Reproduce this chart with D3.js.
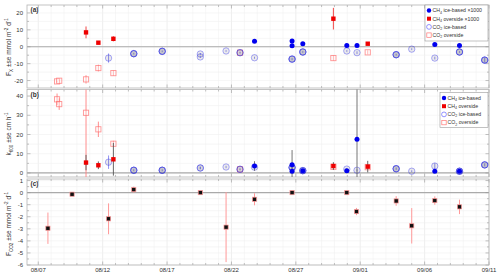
<!DOCTYPE html>
<html>
<head>
<meta charset="utf-8">
<script src="https://cdn.jsdelivr.net/npm/d3@7"></script>
<style>
body{margin:0;background:#fff}
text{font-family:"Liberation Sans",Arial,sans-serif;fill:#333}
</style>
</head>
<body>
<svg id="chart" width="500" height="277"></svg>
<script>
// sample times (2019)
const ch4IceT = ["08-23 19:00","08-26 17:00","08-26 17:00","08-27 13:00","08-30 23:00","08-31 18:00","09-06 19:00","09-08 17:00"];
const ch4IceFx = [3.2, 3.4, 0.6, 1.8, 0.8, 0.8, 1.4, 0.8];
const ch4IceFxSe = [0.3, 0.3, 0.3, 0.4, 0.3, 0.3, 0.3, 0.3];
const ch4IceK = [3.6, 4.3, 0.9, 1.2, 1.2, 17.5, 0.9, 0.9];
const ch4IceKSe = [2.5, 7.6, 0.8, 0.8, 0.8, 42, 0.6, 0.6];

const ch4OverT = ["08-10 17:00","08-11 16:00","08-12 20:00","08-29 22:00","09-01 14:00"];
const ch4OverFx = [8.5, 2.4, 4.7, 16.6, 1.8];
const ch4OverFxSe = [3.5, 0.5, 1.5, 6.4, 0.4];
const ch4OverK = [5.4, 4.0, 7.1, 3.6, 3.3];
const ch4OverKSe = [4, 2, 8.5, 2, 3];

// co2IceN: number of overlapping casts at that time
const co2IceT = ["08-12 11:00","08-14 10:00","08-16 15:00","08-19 14:00","08-19 14:00","08-21 14:00","08-22 16:00","08-23 19:00",
                 "08-26 17:00","08-27 13:00","08-30 23:00","08-31 18:00","09-03 19:00","09-05 00:00","09-06 19:00","09-08 17:00","09-10 16:00"];
const co2IceFx = [-6.7, -4.1, -2.7, -4.3, -6.0, -2.5, -3.5, -6.5, -7.3, -3.1, -2.5, -3.5, -4.7, -1.4, -6.7, -3.1, -7.9];
const co2IceFxSe = [2.7, 0.5, 0.5, 0.6, 0.6, 0.5, 0.5, 0.6, 0.6, 0.5, 0.5, 0.8, 0.5, 0.5, 0.8, 0.5, 1.5];
const co2IceK = [5.6, 1.4, 1.4, 2.6, 2.6, 3.1, 1.9, 3.0, 2.8, 1.2, 2.0, 1.4, 2.2, 0.9, 3.6, 0.9, 4.2];
const co2IceKSe = [3.5, 0.5, 0.5, 0.6, 0.6, 0.6, 0.5, 0.6, 0.6, 0.5, 0.5, 0.5, 0.6, 0.5, 1.5, 0.5, 0.8];
const co2IceN = [1, 3, 3, 1, 1, 1, 2, 1, 3, 3, 1, 1, 3, 1, 1, 3, 3];

const co2OverT = ["08-08 11:00","08-08 15:00","08-10 17:00","08-11 16:00","08-12 20:00","08-22 16:00","08-29 22:00","09-01 14:00"];
const co2OverFx = [-20.5, -20.1, -19.3, -12.6, -15.6, -3.5, -6.7, -3.3];
const co2OverFxSe = [0.5, 0.5, 2.5, 2, 1.5, 0.5, 1.5, 1.2];
const co2OverK = [38.3, 35.8, 31.3, 22.7, 15.2, 1.9, 3.2, 3.0];
const co2OverKSe = [3, 3, 45, 4, 1.5, 0.5, 1, 1];

const fco2T = ["08-07 18:00","08-09 15:00","08-12 11:00","08-14 10:00","08-19 14:00","08-21 14:00","08-23 19:00",
               "08-26 17:00","08-30 23:00","08-31 17:00","09-03 19:00","09-05 00:00","09-06 19:00","09-08 17:00"];
const fco2 = [-2.95, -0.13, -2.17, 0.25, 0, -2.86, -0.55, 0, 0, -1.57, -0.69, -2.75, -0.66, -1.18];
const fco2Se = [1.3, 0.05, 1.28, 0.25, 0.05, 2.9, 0.5, 0.05, 0.05, 0.3, 0.4, 1.47, 0.35, 0.6];

const yTicksA = [-20, -10, 0, 10, 20];
const yTicksB = [0, 10, 20, 30, 40];
const yTicksC = [1, 0, -1, -2, -3, -4, -5, -6];

const parse = d3.timeParse("%Y-%m-%d %H:%M");
const T = s => parse("2019-" + s);
const svg = d3.select("#chart");

const x = d3.scaleTime().domain([T("08-06 03:00"), T("09-11 00:00")]).range([27, 489]);
const days = d3.timeDay.range(T("08-07 00:00"), T("09-11 01:00"));

const panels = [
  {key: "a", top: 5, bottom: 88, domain: [-24.4, 24.7], ticks: yTicksA, minor: d3.range(-20, 21, 5)},
  {key: "b", top: 89.5, bottom: 177, domain: [-2.1, 43.4], ticks: yTicksB, minor: d3.range(0, 41, 5)},
  {key: "c", top: 179, bottom: 265, domain: [-6, 1.13], ticks: yTicksC, minor: d3.range(-6, 1.01, 0.5)}
];
panels.forEach(p => p.y = d3.scaleLinear().domain(p.domain).range([p.bottom, p.top]));

const x0 = x.range()[0], x1 = x.range()[1];

panels.forEach(p => {
  const g = svg.append("g");
  // grid
  g.selectAll(".vg").data(days).join("line")
    .attr("x1", d => x(d)).attr("x2", d => x(d)).attr("y1", p.top).attr("y2", p.bottom)
    .attr("stroke", (d, i) => i % 5 === 0 ? "#e2e2e2" : "#f1f1f1").attr("stroke-width", 0.6);
  g.selectAll(".hg").data(p.minor).join("line")
    .attr("x1", x0).attr("x2", x1).attr("y1", d => p.y(d)).attr("y2", d => p.y(d))
    .attr("stroke", "#f0f0f0").attr("stroke-width", 0.6);
  // zero line
  g.append("line").attr("x1", x0).attr("x2", x1).attr("y1", p.y(0)).attr("y2", p.y(0))
    .attr("stroke", "#aaa").attr("stroke-width", 1.2);
  // x ticks top and bottom
  [[p.top, 1], [p.bottom, -1]].forEach(([yy, s]) => {
    g.selectAll(null).data(days).join("line")
      .attr("x1", d => x(d)).attr("x2", d => x(d)).attr("y1", yy)
      .attr("y2", (d, i) => yy + s * (i % 5 === 0 ? 3.5 : 2))
      .attr("stroke", "#999").attr("stroke-width", 0.6);
  });
  // y ticks left/right
  [[x0, 1], [x1, -1]].forEach(([xx, s]) => {
    g.selectAll(null).data(p.minor).join("line")
      .attr("y1", d => p.y(d)).attr("y2", d => p.y(d)).attr("x1", xx)
      .attr("x2", d => xx + s * (p.ticks.includes(d) ? 3.5 : 2))
      .attr("stroke", "#999").attr("stroke-width", 0.6);
  });
  g.selectAll(".yl").data(p.ticks).join("text")
    .attr("x", 23).attr("y", d => p.y(d)).attr("dy", "0.35em")
    .attr("text-anchor", "end").attr("font-size", 6).text(d => d);
  g.append("rect").attr("x", x0).attr("y", p.top).attr("width", x1 - x0).attr("height", p.bottom - p.top)
    .attr("fill", "none").attr("stroke", "#b5b5b5").attr("stroke-width", 0.8);
  g.append("text").attr("x", 30.5).attr("y", p.top + 7).attr("font-size", 6.5)
    .attr("font-weight", "bold").attr("fill", "#222").text("(" + p.key + ")");
  svg.append("clipPath").attr("id", "clip" + p.key).append("rect")
    .attr("x", x0).attr("y", p.top).attr("width", x1 - x0).attr("height", p.bottom - p.top);
  p.g = svg.append("g").attr("clip-path", "url(#clip" + p.key + ")");
});

// x tick labels
svg.selectAll(".xl").data(days.filter((d, i) => i % 5 === 0)).join("text")
  .attr("x", d => x(d)).attr("y", 272).attr("text-anchor", "middle").attr("font-size", 6)
  .text(d3.timeFormat("%m/%d"));

function errBars(g, y, t, v, se, color, width) {
  g.append("g").selectAll("line").data(t).join("line")
    .attr("x1", (d, i) => x(T(d))).attr("x2", (d, i) => x(T(d)))
    .attr("y1", (d, i) => y(v[i] - se[i])).attr("y2", (d, i) => y(v[i] + se[i]))
    .attr("stroke", color).attr("stroke-width", width || 0.9);
}
function squares(g, y, t, v, size, attrs) {
  const s = g.append("g").selectAll("rect").data(t).join("rect")
    .attr("x", (d, i) => x(T(d)) - size / 2).attr("y", (d, i) => y(v[i]) - size / 2)
    .attr("width", size).attr("height", size);
  Object.entries(attrs).forEach(([k, val]) => s.attr(k, val));
}
function circles(g, y, t, v, r, attrs) {
  const s = g.append("g").selectAll("circle").data(t).join("circle")
    .attr("cx", (d, i) => x(T(d))).attr("cy", (d, i) => y(v[i])).attr("r", r);
  Object.entries(attrs).forEach(([k, val]) => s.attr(k, val));
}
function co2IceMarks(g, y, v, se) {
  errBars(g, y, co2IceT, v, se, "#7777ee", 0.8);
  co2IceT.forEach((d, i) => {
    d3.range(co2IceN[i]).forEach(() => {
      g.append("circle").attr("cx", x(T(d))).attr("cy", y(v[i])).attr("r", 3.2)
        .attr("fill", "#556").attr("fill-opacity", 0.12)
        .attr("stroke", "#3333ee").attr("stroke-opacity", 0.45).attr("stroke-width", 0.9);
    });
  });
}

// panel a
{
  const p = panels[0], g = p.g, y = p.y;
  errBars(g, y, co2OverT, co2OverFx, co2OverFxSe, "#ff9090");
  squares(g, y, co2OverT, co2OverFx, 5.2, {fill: "#fff", "fill-opacity": 0.3, stroke: "#ff6666", "stroke-opacity": 0.7, "stroke-width": 0.9});
  co2IceMarks(g, y, co2IceFx, co2IceFxSe);
  errBars(g, y, ch4OverT, ch4OverFx, ch4OverFxSe, "#ee3333");
  squares(g, y, ch4OverT, ch4OverFx, 4.4, {fill: "#ee0000"});
  errBars(g, y, ch4IceT, ch4IceFx, ch4IceFxSe, "#666");
  circles(g, y, ch4IceT, ch4IceFx, 2.5, {fill: "#0000ee"});
}
// panel b
{
  const p = panels[1], g = p.g, y = p.y;
  errBars(g, y, co2OverT, co2OverK, co2OverKSe, "#ff8080");
  squares(g, y, co2OverT, co2OverK, 5.2, {fill: "#fff", "fill-opacity": 0.3, stroke: "#ff6666", "stroke-opacity": 0.7, "stroke-width": 0.9});
  co2IceMarks(g, y, co2IceK, co2IceKSe);
  errBars(g, y, ch4OverT, ch4OverK, ch4OverKSe, "#555");
  squares(g, y, ch4OverT, ch4OverK, 4.4, {fill: "#ee0000"});
  errBars(g, y, ch4IceT, ch4IceK, ch4IceKSe, "#666");
  circles(g, y, ch4IceT, ch4IceK, 2.5, {fill: "#0000ee"});
}
// panel c
{
  const p = panels[2], g = p.g, y = p.y;
  errBars(g, y, fco2T, fco2, fco2Se, "#ff9999", 1);
  squares(g, y, fco2T, fco2, 4.2, {fill: "#111", stroke: "#ff9999", "stroke-width": 0.7});
}

// legends
function legend(x0l, y0l, w, h, rows) {
  const g = svg.append("g");
  g.append("rect").attr("x", x0l).attr("y", y0l).attr("width", w).attr("height", h)
    .attr("fill", "#fff").attr("stroke", "#999").attr("stroke-width", 0.6);
  rows.forEach((r, i) => {
    const cy = y0l + 5.5 + i * 8.2, mx = x0l + 4;
    if (r.m === "dot") g.append("circle").attr("cx", mx).attr("cy", cy).attr("r", 2.2).attr("fill", "#0000ee");
    if (r.m === "sq") g.append("rect").attr("x", mx - 2).attr("y", cy - 2).attr("width", 4).attr("height", 4).attr("fill", "#ee0000");
    if (r.m === "ring") g.append("circle").attr("cx", mx).attr("cy", cy).attr("r", 2.4).attr("fill", "none").attr("stroke", "#6666ff").attr("stroke-width", 0.7);
    if (r.m === "box") g.append("rect").attr("x", mx - 2.2).attr("y", cy - 2.2).attr("width", 4.4).attr("height", 4.4).attr("fill", "none").attr("stroke", "#ff7777").attr("stroke-width", 0.7);
    const t = g.append("text").attr("x", mx + 3.5).attr("y", cy + 1.8).attr("font-size", 5.2).attr("fill", "#222");
    t.append("tspan").text(r.a);
    t.append("tspan").attr("font-size", 3.6).attr("dy", 1.2).text(r.s);
    t.append("tspan").attr("dy", -1.2).text(r.b);
  });
}
legend(425, 5, 63, 36, [
  {m: "dot", a: "CH", s: "4", b: " ice-based ×1000"},
  {m: "sq", a: "CH", s: "4", b: " overside ×1000"},
  {m: "ring", a: "CO", s: "2", b: " ice-based"},
  {m: "box", a: "CO", s: "2", b: " overside"}
]);
legend(440, 92.5, 48, 35, [
  {m: "dot", a: "CH", s: "4", b: " ice-based"},
  {m: "sq", a: "CH", s: "4", b: " overside"},
  {m: "ring", a: "CO", s: "2", b: " ice-based"},
  {m: "box", a: "CO", s: "2", b: " overside"}
]);

// y axis titles
function yTitle(cy, parts) {
  const t = svg.append("text").attr("transform", `translate(11,${cy}) rotate(-90)`)
    .attr("text-anchor", "middle").attr("font-size", 6.5).attr("fill", "#222");
  parts.forEach(([s, kind]) => {
    const sp = t.append("tspan").text(s);
    if (kind === "sub") sp.attr("font-size", 4.6).attr("dy", 1.6);
    if (kind === "sup") sp.attr("font-size", 4.6).attr("dy", -2.6);
    if (kind === "back-sub") sp.attr("dy", -1.6);
    if (kind === "back-sup") sp.attr("dy", 2.6);
  });
}
yTitle(47, [["F"], ["X", "sub"], [" ±se  mmol m", "back-sub"], ["-2", "sup"], [" d", "back-sup"], ["-1", "sup"]]);
yTitle(134, [["k"], ["600", "sub"], [" ±se  cm h", "back-sub"], ["-1", "sup"]]);
yTitle(224, [["F"], ["CO2", "sub"], [" ±se  mmol m", "back-sub"], ["-2", "sup"], [" d", "back-sup"], ["-1", "sup"]]);
</script>
</body>
</html>
